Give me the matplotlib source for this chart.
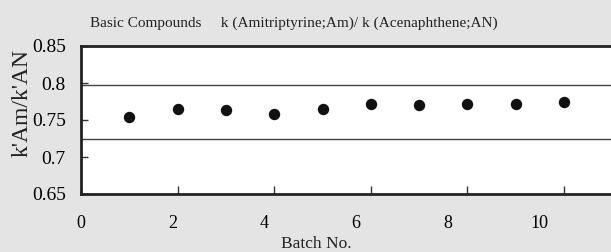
import matplotlib
matplotlib.use("Agg")
import matplotlib.pyplot as plt

# batch number vs k'Am/k'AN
batch = [1, 2, 3, 4, 5, 6, 7, 8, 9, 10]
ratio = [0.754, 0.765, 0.7635, 0.7585, 0.7645, 0.771, 0.770, 0.771, 0.772, 0.775]
upper_limit = 0.797
lower_limit = 0.724
xticks = [0, 2, 4, 6, 8, 10]
yticks = [0.65, 0.7, 0.75, 0.8, 0.85]

plt.rcParams['font.family'] = ['Liberation Serif', 'DejaVu Serif']
bg = '#e4e4e4'

fig = plt.figure(figsize=(6.11, 2.52), dpi=100, facecolor=bg)
ax = fig.add_axes([81/611, 58/252, 530/611, 148/252])
ax.set_facecolor('white')

ax.axhline(upper_limit, color='#444444', lw=1.0)
ax.axhline(lower_limit, color='#444444', lw=1.0)
ax.plot(batch, ratio, 'o', color='#111111', ms=7.2, ls='none')

ax.set_xlim(0, 530/48.3)
ax.set_ylim(0.65, 0.85)
ax.set_yticks(yticks)
ax.set_yticklabels(['0.65', '0.7', '0.75', '0.8', '0.85'])
ax.set_xticks(xticks)
ax.set_xticklabels([])
ax.tick_params(direction='in', length=5, width=1, color='#333333',
               labelsize=14, pad=11)
ax.tick_params(axis='x', length=6)

for s in ['left', 'bottom', 'top']:
    ax.spines[s].set_linewidth(2.0)
    ax.spines[s].set_color('#222222')
ax.spines['right'].set_visible(False)

# tick labels of the x axis sit on a slightly narrower scale in the original
ax2 = ax.twiny()
ax2.set_xlim(0, 530/45.8)
ax2.xaxis.set_ticks_position('bottom')
ax2.xaxis.set_label_position('bottom')
ax2.set_xticks(xticks)
ax2.set_xticklabels([str(t) for t in xticks])
ax2.tick_params(length=0, labelsize=13, pad=15)
for s in ax2.spines.values():
    s.set_visible(False)

fig.text(294/611, 1 - 23/252, 'Basic Compounds     k (Amitriptyrine;Am)/ k (Acenaphthene;AN)',
         ha='center', va='center', fontsize=11, color='#222222')
fig.text(316/611, 1 - 244/252, 'Batch No.', ha='center', va='center',
         fontsize=12.5, color='#222222')
fig.text(22/611, 1 - 103/252, "k'Am/k'AN", ha='center', va='center',
         rotation=90, fontsize=17, color='#222222')

fig.savefig('out.png', dpi=100, facecolor=bg)
